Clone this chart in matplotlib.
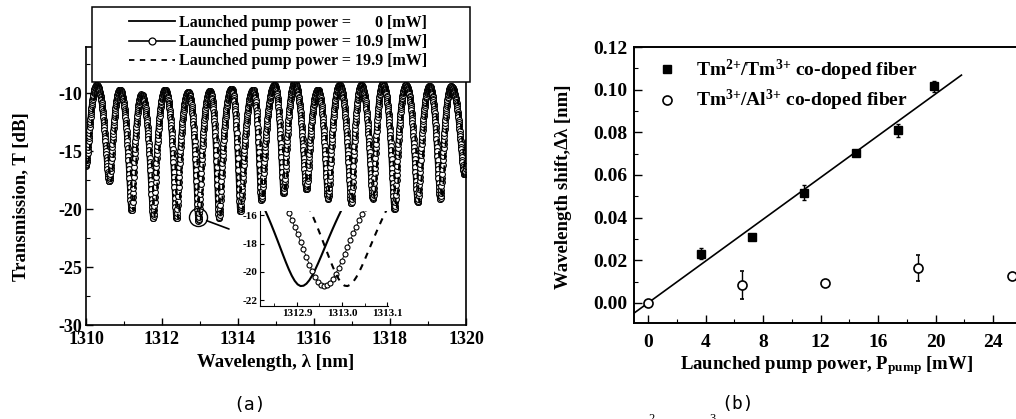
import numpy as np
import matplotlib
matplotlib.use('Agg')
import matplotlib.pyplot as plt
from matplotlib.lines import Line2D
from matplotlib.patches import Rectangle
from matplotlib.ticker import MultipleLocator, FormatStrFormatter

# ---- (a) transmission spectrum, 0 mW curve extrema
dip_wl = [1309.94, 1310.56, 1311.15, 1311.72, 1312.33, 1312.91, 1313.45, 1314.01, 1314.56,
          1315.15, 1315.75, 1316.32, 1316.93, 1317.50, 1318.07, 1318.68, 1319.27, 1319.91]
dip_db = [-16.3, -17.6, -20.1, -20.8, -20.8, -21.0, -20.8, -20.2, -19.2,
          -18.6, -18.3, -19.1, -19.5, -19.1, -20.0, -19.4, -19.1, -17.0]
peak_wl = [1310.23, 1310.84, 1311.41, 1312.03, 1312.64, 1313.21, 1313.78, 1314.35, 1314.91,
           1315.44, 1316.05, 1316.62, 1317.19, 1317.76, 1318.37, 1318.99, 1319.56, 1320.20]
peak_db = [-9.3, -9.7, -10.1, -9.7, -9.9, -9.8, -9.6, -9.7, -9.3,
           -9.1, -9.7, -9.3, -9.3, -9.2, -9.3, -9.4, -9.4, -9.4]
pump_mw = [0, 10.9, 19.9]
pump_shift = [0.0, 0.05, 0.10]   # nm, spectral shift of each curve
labels_a = ['Launched pump power =      0 [mW]',
            'Launched pump power = 10.9 [mW]',
            'Launched pump power = 19.9 [mW]']

# ---- (b) wavelength shift vs pump power
p_tm2 = [3.7, 7.25, 10.85, 14.5, 17.4, 19.9]
d_tm2 = [0.0231, 0.0309, 0.0516, 0.0705, 0.0809, 0.1016]
e_tm2 = [0.0025, 0.001, 0.0035, 0.001, 0.003, 0.0025]
p_al = [0.0, 6.55, 12.3, 18.8, 25.35]
d_al = [0.0, 0.0083, 0.0094, 0.0164, 0.0125]
e_al = [0.0, 0.0065, 0.001, 0.006, 0.001]
fit_slope, fit_icpt = 0.0049, 0.0
fit_p = [-1.0, 21.8]
labels_b = ['Tm$^{2{+}}$/Tm$^{3{+}}$ co-doped fiber', 'Tm$^{3{+}}$/Al$^{3{+}}$ co-doped fiber']

plt.rcParams['font.family'] = ['Liberation Serif', 'DejaVu Serif']
plt.rcParams['font.weight'] = 'bold'
plt.rcParams['axes.labelweight'] = 'bold'
plt.rcParams['axes.unicode_minus'] = False
plt.rcParams['mathtext.fontset'] = 'custom'
plt.rcParams['mathtext.rm'] = 'Liberation Serif:bold'
plt.rcParams['mathtext.it'] = 'Liberation Serif:bold'
plt.rcParams['mathtext.bf'] = 'Liberation Serif:bold'

W, H = 1016, 419
fig = plt.figure(figsize=(W / 100, H / 100), dpi=100)


def box(l, t, r, b):
    return [l / W, 1 - b / H, (r - l) / W, (b - t) / H]


ext_wl = np.array(dip_wl + peak_wl)
ext_db = np.array(dip_db + peak_db)
order = np.argsort(ext_wl)
ext_wl, ext_db = ext_wl[order], ext_db[order]


def spectrum(x):
    # half-cosine in linear power between the read extrema
    lin = 10 ** (ext_db / 10)
    i = np.clip(np.searchsorted(ext_wl, x) - 1, 0, len(ext_wl) - 2)
    t = (x - ext_wl[i]) / (ext_wl[i + 1] - ext_wl[i])
    w = 0.5 - 0.5 * np.cos(np.pi * t)
    return 10 * np.log10(lin[i] + (lin[i + 1] - lin[i]) * w)


styles = [dict(color='k', lw=1.5),
          dict(color='k', lw=0.6, marker='o', ms=4.2, mfc='white', mec='k', mew=0.8),
          dict(color='k', lw=1.5, dashes=(3, 3))]

ax = fig.add_axes(box(86, 47, 466, 325))
wl = np.arange(1310, 1320.0001, 0.006)
for s, st in zip(pump_shift, styles):
    ax.plot(wl, spectrum(wl - s), **st)
ax.set_xlim(1310, 1320)
ax.set_ylim(-30, -6)
ax.xaxis.set_major_locator(MultipleLocator(2))
ax.xaxis.set_minor_locator(MultipleLocator(1))
ax.yaxis.set_major_locator(MultipleLocator(5))
ax.yaxis.set_minor_locator(MultipleLocator(2.5))
ax.tick_params(direction='in', labelsize=13, length=5, width=1, pad=3)
ax.tick_params(axis='x', pad=4.5)
ax.tick_params(which='minor', direction='in', length=3, width=0.8)
for sp in ax.spines.values():
    sp.set_linewidth(1.2)
ax.set_xlabel('Wavelength, λ [nm]', fontsize=13.5)
ax.set_ylabel('Transmission, T [dB]', fontsize=13.5)
ax.xaxis.set_label_coords(0.5, -0.104)
ax.yaxis.set_label_coords(-0.147, 0.46)

# callout circle around one dip of the 10.9 mW curve
cx = dip_wl[5] + pump_shift[1] / 2
cy = dip_db[5] + 0.3
ax.plot(cx, cy, 'o', ms=13, mfc='none', mec='k', mew=1)
ax.annotate('', xy=(229 / W, 1 - 229 / H), xycoords='figure fraction',
            xytext=(cx, cy), textcoords='data',
            arrowprops=dict(arrowstyle='-', lw=1.2, shrinkA=7, shrinkB=0))

# inset
axi = fig.add_axes(box(260, 211, 388, 306), facecolor='none')
wi = np.arange(1312.70, 1313.20, 0.0065)
for s, st in zip(pump_shift, styles):
    st = dict(st, ms=3.6) if 'marker' in st else st
    axi.plot(wi, spectrum(wi - s), **st)
axi.set_xlim(1312.818, 1313.102)
axi.set_ylim(-22.4, -15.7)
axi.set_xticks([1312.9, 1313.0, 1313.1])
axi.xaxis.set_major_formatter(FormatStrFormatter('%.1f'))
axi.xaxis.set_minor_locator(MultipleLocator(0.05))
axi.set_yticks([-16, -18, -20, -22])
axi.spines['top'].set_visible(False)
axi.spines['right'].set_visible(False)
axi.tick_params(direction='in', labelsize=8, length=3, pad=2)
axi.tick_params(which='minor', direction='in', length=2)

# legend (a)
fig.add_artist(Rectangle((92 / W, 1 - 82 / H), 378 / W, 75 / H, transform=fig.transFigure,
                         facecolor='white', edgecolor='k', lw=1.1, zorder=3))
hnd = [Line2D([], [], color='k', lw=1.3),
       Line2D([], [], color='k', lw=1.2, marker='o', ms=5, mfc='white', mec='k', mew=0.9),
       Line2D([], [], color='k', lw=1.3, dashes=(3, 3))]
fig.legend(hnd, labels_a, loc='upper left', bbox_to_anchor=(129 / W, 1 - 15 / H),
           frameon=False, fontsize=11.5, borderpad=0, handlelength=2.9,
           handletextpad=0.2, labelspacing=0.2, numpoints=1, borderaxespad=0)

# ---- (b)
ax2 = fig.add_axes(box(634, 47, 1050, 323))
ax2.plot(fit_p, [fit_icpt + fit_slope * p for p in fit_p], color='k', lw=1.2)
ax2.errorbar(p_tm2, d_tm2, yerr=e_tm2, fmt='s', color='k', ms=6, capsize=1.5,
             elinewidth=1, capthick=1)
ax2.errorbar(p_al, d_al, yerr=e_al, fmt='o', color='k', mfc='white', mec='k', ms=6.5,
             mew=1.2, capsize=1.5, elinewidth=1, capthick=1)
ax2.set_xlim(-0.974, 27.96)
ax2.set_ylim(-0.0094, 0.12)
ax2.xaxis.set_major_locator(MultipleLocator(4))
ax2.xaxis.set_minor_locator(MultipleLocator(2))
ax2.yaxis.set_major_locator(MultipleLocator(0.02))
ax2.yaxis.set_minor_locator(MultipleLocator(0.01))
ax2.yaxis.set_major_formatter(FormatStrFormatter('%.2f'))
ax2.tick_params(direction='in', labelsize=14, length=6, width=1)
ax2.tick_params(axis='x', pad=8)
ax2.tick_params(axis='y', pad=5)
ax2.tick_params(which='minor', direction='in', length=3, width=0.8)
for sp in ax2.spines.values():
    sp.set_linewidth(1.4)
ax2.set_xlabel('Launched pump power, P$_{\\rm pump}$ [mW]', fontsize=13.5)
ax2.set_ylabel('Wavelength shift,Δλ [nm]', fontsize=13.5)
ax2.xaxis.set_label_coords(0.463, -0.112)
ax2.yaxis.set_label_coords(-0.149, 0.493)
hnd2 = [Line2D([], [], ls='none', marker='s', color='k', ms=6),
        Line2D([], [], ls='none', marker='o', mfc='white', mec='k', ms=6.5, mew=1.2)]
ax2.legend(hnd2, labels_b, loc='upper left', bbox_to_anchor=(657 / W, 1 - 58 / H),
           bbox_transform=fig.transFigure, frameon=False, fontsize=14, borderpad=0,
           handlelength=1.0, handletextpad=1.0, labelspacing=0.25, numpoints=1,
           borderaxespad=0)

fig.text(250 / W, 1 - 405 / H, '(a)', ha='center', va='center', fontsize=13,
         family='DejaVu Sans Mono', weight='normal')
fig.text(738 / W, 1 - 404 / H, '(b)', ha='center', va='center', fontsize=13,
         family='DejaVu Sans Mono', weight='normal')
# caption superscripts cut by the lower edge
fig.text(652 / W, 1 - 413 / H, '2', ha='center', va='top', fontsize=9, weight='normal')
fig.text(713 / W, 1 - 413 / H, '3', ha='center', va='top', fontsize=9, weight='normal')

fig.savefig('out.png', dpi=100)
